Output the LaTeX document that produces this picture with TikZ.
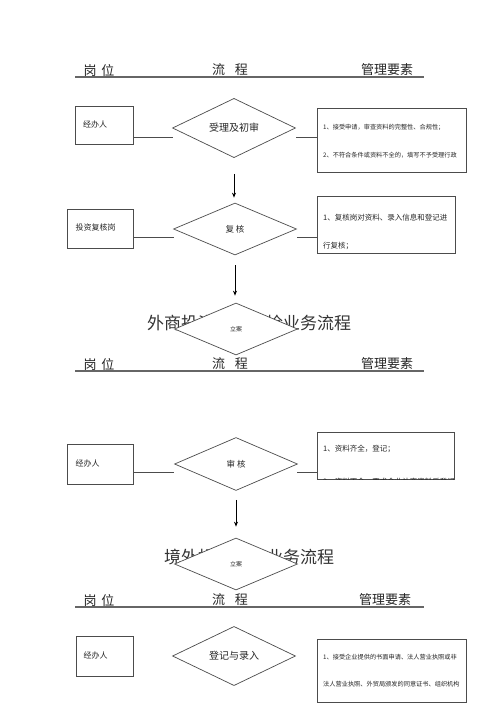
\documentclass[tikz,border=0pt]{standalone}
\usepackage{fontspec}
\newfontfamily\cjk{Noto Sans CJK SC}
\usetikzlibrary{shapes.geometric,arrows.meta}
\begin{document}
\begin{tikzpicture}[x=1pt,y=-1pt,
 lc/.style={draw=black!70, line width=0.7pt},
 box/.style={lc, rectangle, inner sep=0pt},
 dia/.style={lc, diamond, fill=white, inner sep=0pt, minimum width=123pt, font=\cjk\fontsize{8.5}{10}\selectfont, text=black!85},
 lab/.style={inner sep=0pt, font=\cjk\fontsize{8}{10}\selectfont, text=black!85},
 req/.style={anchor=west, inner sep=0pt, font=\cjk\fontsize{6.2}{8}\selectfont, text=black!85},
 reqb/.style={anchor=west, inner sep=0pt, font=\cjk\fontsize{7.5}{9}\selectfont, text=black!85},
 hd/.style={inner sep=0pt, font=\cjk\fontsize{13}{15}\selectfont, text=black!85},
 hl/.style={draw=black!60, line width=1.3pt},
 ttl/.style={inner sep=0pt, font=\cjk\fontsize{17}{19}\selectfont, text=black!80},
 arr/.style={draw=black, line width=0.8pt, -{Stealth[length=5pt,width=4pt]}},
 conn/.style={lc}
]
\useasboundingbox (0,0) rectangle (500,707);
\fill[white] (0,0) rectangle (500,707);

% ---------- header 1
\node[hd] (h1a) at (99,70) {岗\hspace{5pt}位};
\node[hd] (h1b) at (230,70) {流\hspace{10pt}程};
\node[hd] (h1c) at (387,70) {管理要素};
\coordinate (h1l) at (75,77); \coordinate (h1r) at (424,77);
\draw[hl] (h1l) -- (h1r);

% ---------- titles (drawn first, partly covered by diamonds)
\node[ttl] (t1) at (249,323) {外商投资企业年检业务流程};
\node[ttl] (t2) at (249,557) {境外投资登记业务流程};

% ---------- row 1
\node[box, minimum width=58pt, minimum height=38pt] (lb1) at (104,125) {};
\node[lab] (lb1t) at (95,124) {经办人};
\node[dia, minimum height=58pt, font=\cjk\fontsize{10}{12}\selectfont] (d1) at (234,128) {受理及初审};
\node[box, minimum width=149pt, minimum height=64pt] (rb1) at (391.5,140) {};
\node[req] (rb1t1) at (323,127) {1、接受申请，审查资料的完整性、合规性；};
\node[req] (rb1t2) at (323,155) {2、不符合条件或资料不全的，填写不予受理行政};
\coordinate (c1a) at (173,137); \coordinate (c1b) at (296,137);
\draw[conn] (lb1.east |- c1a) -- (c1a);
\draw[conn] (c1b) -- (rb1.west |- c1b);

% ---------- row 2
\node[box, minimum width=66pt, minimum height=39pt] (lb2) at (100,228.5) {};
\node[lab] (lb2t) at (95.5,227) {投资复核岗};
\node[dia, minimum height=52pt] (d2) at (235,229) {复\hspace{2pt}核};
\node[box, minimum width=138pt, minimum height=57pt] (rb2) at (386,224.5) {};
\node[reqb] (rb2t1) at (323,218) {1、复核岗对资料、录入信息和登记进};
\node[reqb] (rb2t2) at (323,246) {行复核；};
\coordinate (c2a) at (174,237); \coordinate (c2b) at (297,237);
\draw[conn] (lb2.east |- c2a) -- (c2a);
\draw[conn] (c2b) -- (rb2.west |- c2b);

\draw[arr] ([yshift=-16pt]d1.south) -- ([yshift=5pt]d1.south |- d2.north);

% ---------- diamond 3 over title 1
\node[dia, minimum height=52pt, font=\cjk\fontsize{6}{7}\selectfont] (d3) at (236,329) {立案};
\draw[arr] ([yshift=-10pt]d2.south) -- ([yshift=7pt]d2.south |- d3.north);

% ---------- header 2
\node[hd] (h2a) at (99,364) {岗\hspace{5pt}位};
\node[hd] (h2b) at (230,364) {流\hspace{10pt}程};
\node[hd] (h2c) at (387,364) {管理要素};
\coordinate (h2l) at (75,371); \coordinate (h2r) at (424,371);
\draw[hl] (h2l) -- (h2r);

% ---------- row 3
\node[box, minimum width=66pt, minimum height=40pt] (lb3) at (100,464) {};
\node[lab] (lb3t) at (87.5,463) {经办人};
\node[dia, minimum height=53pt] (d4) at (236,464) {审\hspace{2pt}核};
\node[box, minimum width=137pt, minimum height=47pt] (rb3) at (385.5,455.5) {};
\node[reqb] (rb3t1) at (323,449) {1、资料齐全，登记；};
\begin{scope}
\clip (rb3.north west) rectangle (rb3.south east);
\node[reqb] (rb3t2) at (323,482) {2、资料不全，要求企业补齐资料后登记；};
\end{scope}
\coordinate (c3a) at (174,472); \coordinate (c3b) at (297,472);
\draw[conn] (lb3.east |- c3a) -- (c3a);
\draw[conn] (c3b) -- (rb3.west |- c3b);

% ---------- diamond 5 over title 2
\node[dia, minimum height=52pt, font=\cjk\fontsize{6}{7}\selectfont] (d5) at (236,564) {立案};
\draw[arr] ([yshift=-9pt]d4.south) -- ([yshift=11pt]d4.south |- d5.north);

% ---------- header 3
\node[hd] (h3a) at (99,600) {岗\hspace{5pt}位};
\node[hd] (h3b) at (230,600) {流\hspace{10pt}程};
\node[hd] (h3c) at (385,600) {管理要素};
\coordinate (h3l) at (75,607); \coordinate (h3r) at (424,607);
\draw[hl] (h3l) -- (h3r);

% ---------- row 4
\node[box, minimum width=57pt, minimum height=40pt] (lb4) at (104.5,656) {};
\node[lab] (lb4t) at (95.5,655) {经办人};
\node[dia, minimum height=52pt, font=\cjk\fontsize{10}{12}\selectfont] (d6) at (234,656) {登记与录入};
\node[box, minimum width=149pt, minimum height=63pt] (rb4) at (391.5,670.5) {};
\node[req] (rb4t1) at (323,657) {1、接受企业提供的书面申请、法人营业执照或非};
\node[req] (rb4t2) at (323,684) {法人营业执照、外贸局颁发的同意证书、组织机构};
\end{tikzpicture}
\end{document}
